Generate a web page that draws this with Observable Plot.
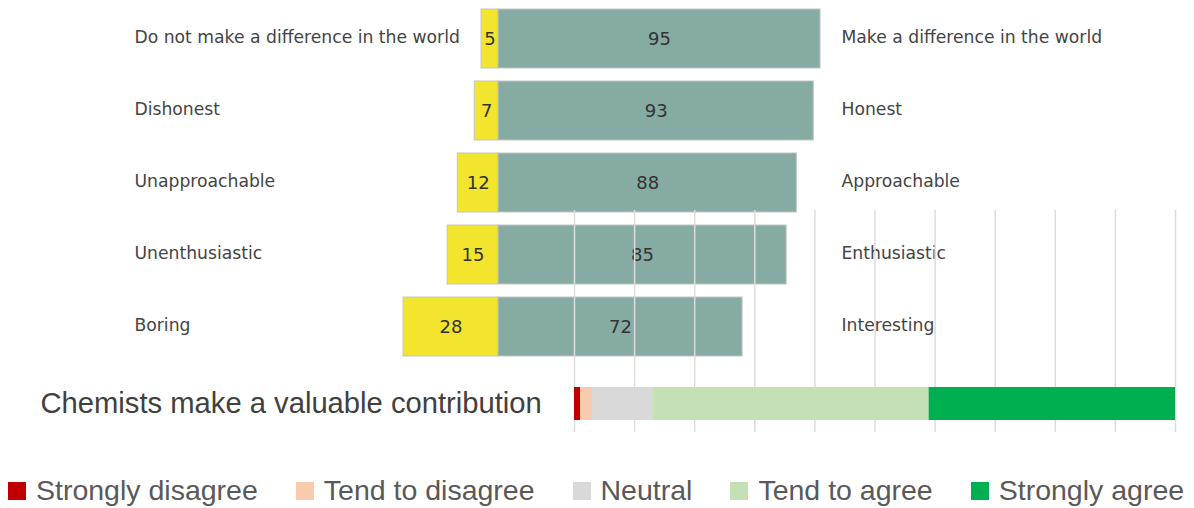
<!DOCTYPE html>
<html>
<head>
<meta charset="utf-8">
<script src="https://cdn.jsdelivr.net/npm/d3@7"></script>
<script src="https://cdn.jsdelivr.net/npm/@observablehq/plot@0.6"></script>
<style>
  html, body { margin: 0; padding: 0; background: #fff; }
  #wrap { position: relative; width: 1194px; height: 508px; overflow: hidden; }
  #top { position: absolute; left: 0; top: 0; }
  #bottom { position: absolute; left: 0; top: 210px; }
  #legend { position: absolute; left: 8px; top: 474px; width: 1200px; }
  .lg-swatches-wrap { display: flex !important; flex-wrap: nowrap !important; min-height: 0 !important; margin: 0 !important; white-space: nowrap; }
  .lg-swatch { margin-right: 38px !important; color: #595959; white-space: nowrap !important; display: inline-flex; align-items: center; }
  .lg-swatch > svg { margin-right: 10px !important; flex: none; }
</style>
</head>
<body>
<div id="wrap">
  <div id="top"></div>
  <div id="bottom"></div>
  <div id="legend"></div>
</div>
<script>
// ---- Data: word-pair perception (top chart) ----
const negLabels = ["Do not make a difference in the world", "Dishonest", "Unapproachable", "Unenthusiastic", "Boring"];
const posLabels = ["Make a difference in the world", "Honest", "Approachable", "Enthusiastic", "Interesting"];
const negValues = [5, 7, 12, 15, 28];
const posValues = [95, 93, 88, 85, 72];

// ---- Data: agreement stacked bar (bottom chart) ----
const question = "Chemists make a valuable contribution";
const categories = ["Strongly disagree", "Tend to disagree", "Neutral", "Tend to agree", "Strongly agree"];
const shares = [1, 2, 10, 46, 41];
const catColors = ["#c00000", "#f8cbad", "#d9d9d9", "#c5e0b4", "#00b050"];
const gridTicks = [0, 10, 20, 30, 40, 50, 60, 70, 80, 90, 100];

const rows = negLabels.map((n, i) => ({neg: n, pos: posLabels[i], n: negValues[i], p: posValues[i]}));
const labelFont = "DejaVu Sans, Verdana, sans-serif";

const topPlot = Plot.plot({
  width: 1194,
  height: 365,
  marginTop: 7,
  marginBottom: 7,
  marginLeft: 159,
  marginRight: 357,
  x: {domain: [-100, 100], axis: null},
  y: {domain: negLabels, paddingInner: 0.175, paddingOuter: 0, axis: null},
  style: {fontFamily: labelFont, background: "transparent"},
  marks: [
    Plot.barX(rows, {y: "neg", x1: d => -d.n, x2: 0, fill: "#f3e42e", stroke: "#c4c4c4", strokeWidth: 1}),
    Plot.barX(rows, {y: "neg", x1: 0, x2: "p", fill: "#85aba3", stroke: "#c4c4c4", strokeWidth: 1}),
    Plot.text(rows, {y: "neg", x: d => -d.n / 2, text: d => String(d.n), fontSize: 18, fill: "#333"}),
    Plot.text(rows, {y: "neg", x: d => d.p / 2, text: d => String(d.p), fontSize: 18, fill: "#333"}),
    Plot.text(rows, {y: "neg", text: "neg", frameAnchor: "left", dx: -25, dy: -2, textAnchor: "start", fontSize: 17.2, fill: "#444"}),
    Plot.text(rows, {y: "neg", text: "pos", frameAnchor: "right", dx: 4, dy: -2, textAnchor: "start", fontSize: 17.2, fill: "#444"})
  ]
});
document.getElementById("top").appendChild(topPlot);

const stackData = categories.map((c, i) => ({q: question, cat: c, value: shares[i]}));

const bottomPlot = Plot.plot({
  width: 1194,
  height: 222,
  marginTop: 0,
  marginBottom: 0,
  marginLeft: 574,
  marginRight: 19,
  x: {domain: [0, 100], axis: null},
  y: {domain: [question], paddingInner: 0, paddingOuter: 2.765, align: 0.936, axis: null},
  color: {domain: categories, range: catColors},
  style: {fontFamily: "Liberation Sans, Arial, sans-serif", background: "transparent"},
  marks: [
    Plot.ruleX(gridTicks, {stroke: "#dcdcdc", strokeWidth: 1.5}),
    Plot.barX(stackData, Plot.stackX({x: "value", y: "q", fill: "cat", order: null})),
    Plot.text([question], {y: d => d, text: d => d, frameAnchor: "left", dx: -534, textAnchor: "start", fontSize: 29.2, fill: "#404040"})
  ]
});
document.getElementById("bottom").appendChild(bottomPlot);

const legend = bottomPlot.legend("color", {
  swatchSize: 18,
  className: "lg",
  style: {fontSize: "28.5px", fontFamily: "Liberation Sans, Arial, sans-serif", color: "#595959"}
});
document.getElementById("legend").appendChild(legend);
</script>
</body>
</html>
